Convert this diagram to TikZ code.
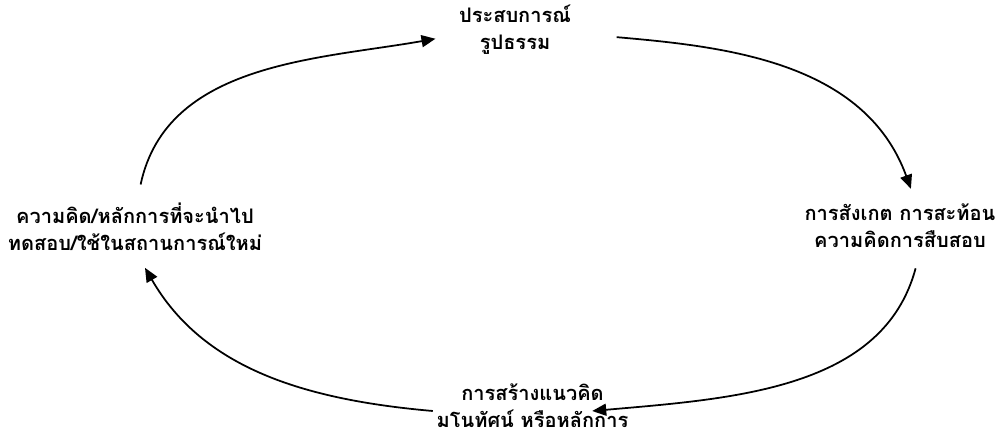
\documentclass[tikz,border=0pt]{standalone}
\usepackage{fontspec}
\newfontfamily\thaifont[Script=Thai]{Loma}
\usetikzlibrary{arrows.meta}

\begin{document}
\begin{tikzpicture}[
    stage/.style={align=center, inner sep=2pt,
      font=\thaifont\bfseries\fontsize{11.4}{15.5}\selectfont},
    flow/.style={line width=1pt, -{Triangle[length=2.8mm,width=2.4mm]}}
  ]
  \useasboundingbox (0,0) rectangle (20.1,8.76);
  % The four stages of the cycle
  \node[stage] (concrete) at (10.3,8.16) {ประสบการณ์\\รูปธรรม};
  \node[stage] (observe) at (18.0,4.24) {การสังเกต การสะท้อน\\ความคิดการสืบสอบ};
  \node[stage] (concept) at (10.65,0.64) {การสร้างแนวคิด\\มโนทัศน์ หรือหลักการ};
  \node[stage] (apply) at (2.7,4.22) {ความคิด/หลักการที่จะนำไป\\ทดสอบ/ใช้ในสถานการณ์ใหม่};
  % Curved arrows going round clockwise
  \draw[flow, shorten <=0.3cm, shorten >=0.4cm]
    ([xshift=0.05cm]apply.north) to[out=78, in=190] ([yshift=-3pt]concrete.west);
  \draw[flow, shorten <=0.84cm, shorten >=0.24cm]
    ([yshift=-2pt]concrete.east) to[out=-5, in=110] ([xshift=0.3cm]observe.north);
  \draw[flow, shorten <=0.34cm]
    ([xshift=0.4cm]observe.south) to[out=-105, in=5] ([xshift=-0.8cm,yshift=-0.1cm]concept.east);
  \draw[flow, shorten >=0.3cm]
    ([yshift=-0.1cm]concept.west) to[out=175, in=-60] ([xshift=0.05cm]apply.south);
\end{tikzpicture}
\end{document}
